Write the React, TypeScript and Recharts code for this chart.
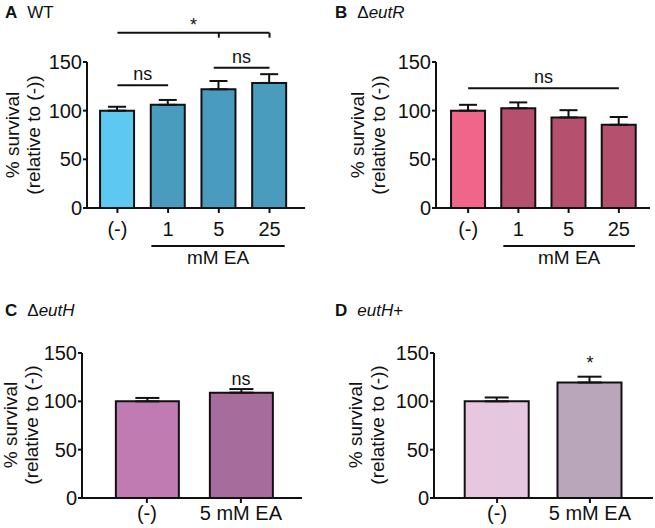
import React from "react";
import {
  BarChart,
  Bar,
  Cell,
  XAxis,
  YAxis,
  ErrorBar,
  ReferenceLine,
  ReferenceDot,
} from "recharts";

const FONT = '"Liberation Sans", Arial, Helvetica, sans-serif';
const yTicks = [0, 50, 100, 150];

// A - WT
const catsA = ["(-)", "1", "5", "25"];
const survA = [100, 106, 122, 128.5];
const semA = [4, 5, 8.5, 9];
const colorsA = ["#5DC8F0", "#4A9CBE", "#4A9CBE", "#4A9CBE"];
const sigA = [
  { x1: 0, x2: 1, y: 126, label: "ns" },
  { x1: 1.9, x2: 3, y: 144, label: "ns" },
  { x1: 0, x2: 3, y: 180, label: "*" },
];
const dropsA = [
  { x: 2, y1: 180, y2: 175 },
  { x: 3, y1: 180, y2: 175 },
];
const groupA = { x1: 0.67, x2: 3.3, y: -39, label: "mM EA" };

// B - ΔeutR
const catsB = ["(-)", "1", "5", "25"];
const survB = [100, 102.5, 93, 85.5];
const semB = [6, 6, 7.5, 8];
const colorsB = ["#F0658A", "#B5506E", "#B5506E", "#B5506E"];
const sigB = [{ x1: 0, x2: 3, y: 123, label: "ns" }];
const groupB = { x1: 0.7, x2: 3.32, y: -39, label: "mM EA" };

// C - ΔeutH
const catsC = ["(-)", "5 mM EA"];
const survC = [100, 109];
const semC = [3.5, 3.7];
const colorsC = ["#C07BB3", "#A66C9B"];
const markC = { x: 1, y: 124, label: "ns" };

// D - eutH+
const catsD = ["(-)", "5 mM EA"];
const survD = [100, 119.5];
const semD = [4, 6];
const colorsD = ["#E5C8E0", "#B9A6BB"];
const markD = { x: 1, y: 140, label: "*" };

type Seg = { x1: number; x2: number; y: number; label: string };
type Drop = { x: number; y1: number; y2: number };

interface PanelProps {
  left: number;
  top: number;
  width: number;
  height: number;
  margin: { top: number; right: number; bottom: number; left: number };
  xDomain: [number, number];
  barSize: number;
  cap: number;
  tickGap: number;
  cats: string[];
  values: number[];
  sems: number[];
  colors: string[];
  letter: string;
  titlePre: string;
  titleIt: string;
  titlePost: string;
  titleY: number;
  yLabelX: [number, number];
  yLabelY: number;
  sig?: Seg[];
  drops?: Drop[];
  group?: Seg;
  mark?: { x: number; y: number; label: string };
}

const black = "#111";
const Y_AXIS_W = 40;

function Panel(p: PanelProps) {
  const data = p.cats.map((c, i) => ({
    x: i,
    name: c,
    value: p.values[i],
    err: [0, p.sems[i]],
  }));
  const margin = { ...p.margin, left: p.margin.left - Y_AXIS_W };
  return (
    <div style={{ position: "absolute", left: p.left, top: p.top }}>
      <BarChart width={p.width} height={p.height} data={data} margin={margin}>
        <XAxis
          type="number"
          dataKey="x"
          domain={p.xDomain}
          allowDataOverflow
          ticks={data.map((d) => d.x)}
          interval={0}
          tickFormatter={(v: number) => p.cats[v]}
          height={30}
          axisLine={{ stroke: black, strokeWidth: 2 }}
          tickLine={{ stroke: black, strokeWidth: 2 }}
          tickSize={5}
          tickMargin={p.tickGap}
          tick={{ fill: black, fontSize: 20, fontFamily: FONT }}
        />
        <YAxis
          type="number"
          domain={[0, 150]}
          allowDataOverflow
          ticks={yTicks}
          interval={0}
          width={Y_AXIS_W}
          axisLine={{ stroke: black, strokeWidth: 2 }}
          tickLine={{ stroke: black, strokeWidth: 2 }}
          tickSize={4}
          tickMargin={1}
          tick={{ fill: black, fontSize: 20, fontFamily: FONT }}
        />
        <Bar
          dataKey="value"
          barSize={p.barSize}
          stroke={black}
          strokeWidth={2}
          isAnimationActive={false}
        >
          {data.map((d, i) => (
            <Cell key={d.name} fill={p.colors[i]} />
          ))}
          <ErrorBar
            dataKey="err"
            direction="y"
            width={p.cap}
            stroke={black}
            strokeWidth={2}
          />
        </Bar>
        {(p.sig || []).map((s, i) => (
          <ReferenceLine
            key={"s" + i}
            segment={[
              { x: s.x1, y: s.y },
              { x: s.x2, y: s.y },
            ]}
            stroke={black}
            strokeWidth={2}
            ifOverflow="visible"
            label={{
              value: s.label,
              position: "top",
              offset: s.label === "*" ? 2 : 5,
              fontSize: 18,
              fill: black,
              fontFamily: FONT,
            }}
          />
        ))}
        {(p.drops || []).map((d, i) => (
          <ReferenceLine
            key={"d" + i}
            segment={[
              { x: d.x, y: d.y1 },
              { x: d.x, y: d.y2 },
            ]}
            stroke={black}
            strokeWidth={2}
            ifOverflow="visible"
          />
        ))}
        {p.group && (
          <ReferenceLine
            segment={[
              { x: p.group.x1, y: p.group.y },
              { x: p.group.x2, y: p.group.y },
            ]}
            stroke={black}
            strokeWidth={2}
            ifOverflow="visible"
            label={{
              value: p.group.label,
              position: "bottom",
              offset: 5,
              fontSize: 19,
              fill: black,
              fontFamily: FONT,
            }}
          />
        )}
        {p.mark && (
          <ReferenceDot
            x={p.mark.x}
            y={p.mark.y}
            r={0}
            fill="none"
            stroke="none"
            ifOverflow="visible"
            label={{
              value: p.mark.label,
              position: "center",
              fontSize: 18,
              fill: black,
              fontFamily: FONT,
            }}
          />
        )}
        <text x={5} y={p.titleY} fontSize={17} fill={black} fontFamily={FONT}>
          <tspan fontWeight="bold">{p.letter}</tspan>
          <tspan dx={10}>
            {p.titlePre}
            <tspan fontStyle="italic">{p.titleIt}</tspan>
            {p.titlePost}
          </tspan>
        </text>
        <text
          x={p.yLabelX[0]}
          y={p.yLabelY}
          transform={`rotate(-90 ${p.yLabelX[0]} ${p.yLabelY})`}
          textAnchor="middle"
          dominantBaseline="central"
          fontSize={19}
          fill={black}
          fontFamily={FONT}
        >
          % survival
        </text>
        <text
          x={p.yLabelX[1]}
          y={p.yLabelY}
          transform={`rotate(-90 ${p.yLabelX[1]} ${p.yLabelY})`}
          textAnchor="middle"
          dominantBaseline="central"
          fontSize={19}
          fill={black}
          fontFamily={FONT}
        >
          (relative to (-))
        </text>
      </BarChart>
    </div>
  );
}

export default function App() {
  return (
    <div
      style={{
        position: "absolute",
        left: 0,
        top: 0,
        width: 655,
        height: 528,
        background: "#fff",
        fontFamily: FONT,
      }}
    >
      <Panel
        left={0}
        top={0}
        width={330}
        height={290}
        margin={{ top: 62, right: 25, bottom: 52, left: 87 }}
        xDomain={[-0.6, 3.7]}
        barSize={34}
        cap={9}
        tickGap={9}
        cats={catsA}
        values={survA}
        sems={semA}
        colors={colorsA}
        letter="A"
        titlePre="WT"
        titleIt=""
        titlePost=""
        titleY={18}
        yLabelX={[12, 33]}
        yLabelY={135}
        sig={sigA}
        drops={dropsA}
        group={groupA}
      />
      <Panel
        left={330}
        top={0}
        width={325}
        height={290}
        margin={{ top: 62, right: 5, bottom: 52, left: 106 }}
        xDomain={[-0.64, 3.62]}
        barSize={34}
        cap={9}
        tickGap={9}
        cats={catsB}
        values={survB}
        sems={semB}
        colors={colorsB}
        letter="B"
        titlePre="Δ"
        titleIt="eutR"
        titlePost=""
        titleY={18}
        yLabelX={[27, 48]}
        yLabelY={135}
        sig={sigB}
        group={groupB}
      />
      <Panel
        left={0}
        top={300}
        width={330}
        height={228}
        margin={{ top: 53, right: 28, bottom: 0, left: 82 }}
        xDomain={[-0.69, 1.65]}
        barSize={63}
        cap={12}
        tickGap={3}
        cats={catsC}
        values={survC}
        sems={semC}
        colors={colorsC}
        letter="C"
        titlePre="Δ"
        titleIt="eutH"
        titlePost=""
        titleY={16}
        yLabelX={[10, 31]}
        yLabelY={125}
        mark={markC}
      />
      <Panel
        left={330}
        top={300}
        width={325}
        height={228}
        margin={{ top: 53, right: 2, bottom: 0, left: 104 }}
        xDomain={[-0.68, 1.68]}
        barSize={64}
        cap={12}
        tickGap={3}
        cats={catsD}
        values={survD}
        sems={semD}
        colors={colorsD}
        letter="D"
        titlePre=""
        titleIt="eutH"
        titlePost="+"
        titleY={16}
        yLabelX={[25, 47]}
        yLabelY={125}
        mark={markD}
      />
    </div>
  );
}
